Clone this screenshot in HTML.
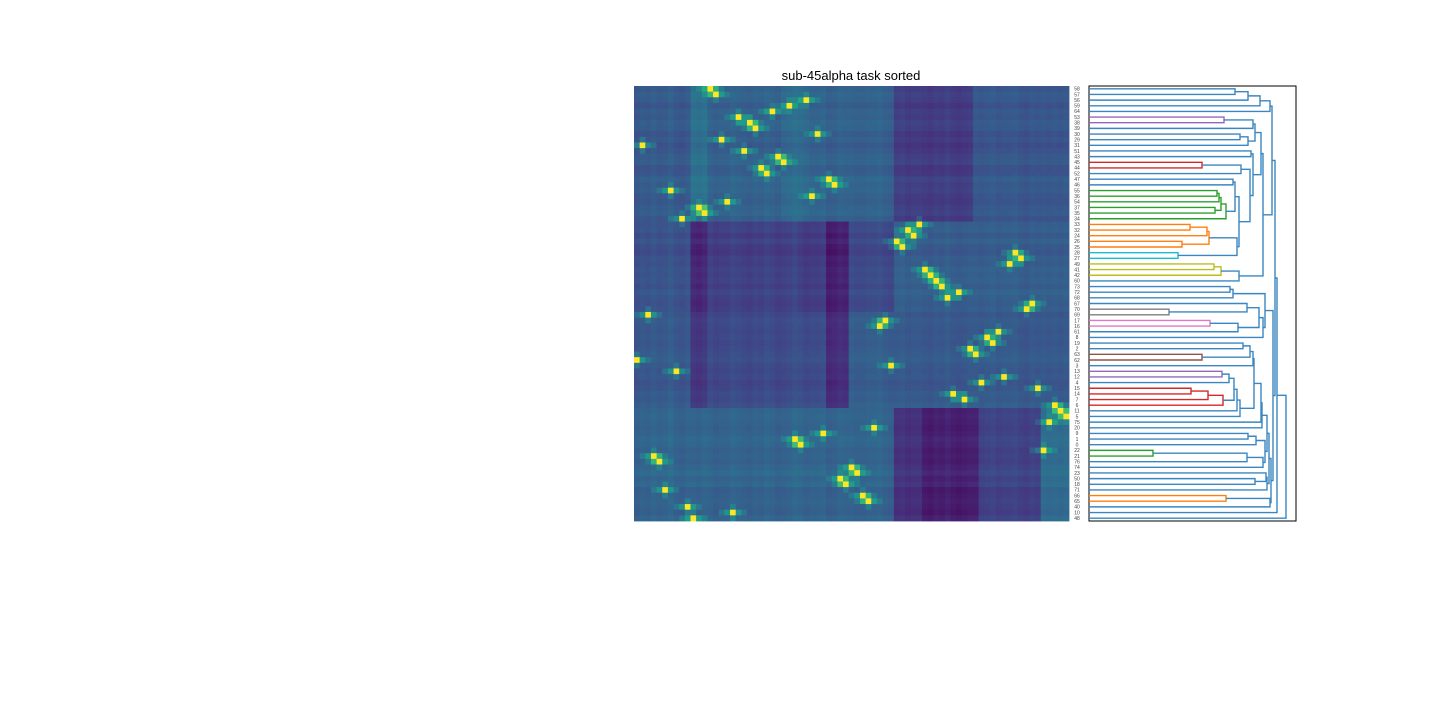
<!DOCTYPE html>
<html><head><meta charset="utf-8"><style>
html,body{margin:0;padding:0;background:#fff;width:1440px;height:720px;overflow:hidden}
svg{display:block}
</style></head><body>
<svg id="fig" width="1440" height="720" xmlns="http://www.w3.org/2000/svg">
<text x="851" y="80" text-anchor="middle" font-family="Liberation Sans, sans-serif" font-size="13" fill="#000">sub-45alpha task sorted</text>
<g id="heat"></g>
<g id="labels"></g>
<rect x="1089" y="86" width="207" height="435" fill="none" stroke="#000" stroke-width="1"/>
<g id="dendro"></g>
</svg>
<script>
const leafLabels = [58,57,56,59,64,53,38,39,30,29,31,51,43,45,44,52,47,46,55,36,54,37,35,34,33,32,24,26,25,28,27,49,41,42,60,73,72,68,67,70,69,17,16,61,8,19,2,63,62,3,13,12,4,15,14,7,6,11,5,75,20,9,1,0,22,21,76,74,23,50,18,71,66,65,40,10,48];
const peakCol = [13,14,30,27,24,18,20,21,32,15,1,19,25,26,22,23,34,35,6,31,16,11,12,8,50,48,49,46,47,67,68,66,51,52,53,54,57,55,70,69,2,44,43,64,62,63,59,60,0,45,7,65,61,71,56,58,74,75,76,73,42,33,28,29,72,3,4,38,39,36,37,5,40,41,9,17,10];
const rowBlock = [0,0,0,0,0,0,0,0,0,0,0,0,0,0,0,0,0,0,0,0,0,0,0,0,1,1,1,1,1,1,1,1,1,1,1,1,1,1,1,1,2,2,2,2,2,2,2,2,2,2,2,2,2,2,2,2,2,3,3,3,3,3,3,3,3,3,3,3,3,3,3,3,3,3,3,3,3];
const rowBias = [0.02,0.04,0.03,0,0.03,0.02,0.04,0.03,0,0.02,-0.01,0.01,0.03,0.04,0,0.01,0.05,0.03,0.04,0.02,0.01,0.03,0.04,0.01,0.02,0.03,0,0.03,0,-0.01,0.02,0.01,0.03,0.02,0.03,0.01,0.04,0.02,0.01,0.02,0.01,0.03,0.02,0.01,0.02,0.01,0.02,0.03,0.04,0.02,0.01,0.02,0,0.01,0.03,0.02,0.04,0.02,0.03,0.02,0.01,0.02,0.04,0.03,0.01,0.02,0.01,0.03,0.05,0.02,0.04,0,0.01,0.02,0.01,0,0.03];
const colBias = [0,0.02,0.01,0.03,0.01,0.02,0.04,0.01,0,0.02,0.02,0.01,0.03,0.02,0,0.01,0.01,0.03,0.02,0.01,0,0.02,0.01,0.03,0.02,0,0.01,0.02,0.04,0.03,0.01,0.02,0.02,0.03,0,0.01,0.03,0.02,0.02,0.01,0.01,0.02,0.02,0.03,0.01,0,0.02,0.03,0.01,0.02,0.02,0.01,0,0.02,0.01,0.03,0.01,0,0.01,0.02,0.02,0.01,0.02,0.03,0.01,0.02,0.02,0.03,0.01,0,0.02,0.01,0.02,0.01,0.02,0.01,0.02];
const profile0 = [[0,9,0.24],[10,12,0.33],[13,25,0.27],[26,30,0.3],[31,45,0.27],[46,59,0.14],[60,76,0.23]];
const profile1 = [[0,9,0.22],[10,12,0.07],[13,28,0.16],[29,33,0.14],[34,37,0.05],[38,45,0.19],[46,76,0.26]];
const profile2 = [[0,9,0.24],[10,12,0.12],[13,33,0.19],[34,37,0.09],[38,45,0.26],[46,76,0.24]];
const profile3 = [[0,45,0.28],[46,50,0.1],[51,60,0.05],[61,71,0.16],[72,76,0.31]];
const profiles = [profile0, profile1, profile2, profile3];

const N = leafLabels.length, X0 = 634, Y0 = 86, S = 435 / N;
const stops = [[68,1,84],[72,40,120],[62,74,137],[49,104,142],[38,130,142],[31,158,137],[53,183,121],[109,205,89],[180,222,44],[253,231,37]];
function viridis(v){v=Math.max(0,Math.min(1,v));const t=v*(stops.length-1),i=Math.min(stops.length-2,Math.floor(t)),f=t-i;const a=stops[i],b=stops[i+1];return `rgb(${Math.round(a[0]+(b[0]-a[0])*f)},${Math.round(a[1]+(b[1]-a[1])*f)},${Math.round(a[2]+(b[2]-a[2])*f)})`;}
const rowOfCol = new Array(N); peakCol.forEach((c,r)=>rowOfCol[c]=r);
const heat = document.getElementById('heat');
const NS='http://www.w3.org/2000/svg';
for(let r=0;r<N;r++){
  const prof = profiles[rowBlock[r]];
  for(let c=0;c<N;c++){
    let v=0.27; for(const s of prof){ if(c>=s[0]&&c<=s[1]) v=s[2]; }
    v += rowBias[r] + colBias[c];
    const dh=Math.abs(c-peakCol[r]), dv=Math.abs(r-rowOfCol[c]);
    if(dh===0) v=1;
    else {
      if(dh===1) v+=0.22; else if(dh===2) v+=0.1;
      if(dv===1) v+=0.12;
    }
    const rect=document.createElementNS(NS,'rect');
    rect.setAttribute('x',(X0+c*S).toFixed(2));rect.setAttribute('y',(Y0+r*S).toFixed(2));
    rect.setAttribute('width',(S+0.4).toFixed(2));rect.setAttribute('height',(S+0.4).toFixed(2));
    rect.setAttribute('fill',viridis(v));
    
    
    heat.appendChild(rect);
  }
}
const lab=document.getElementById('labels');
leafLabels.forEach((l,i)=>{
  const t=document.createElementNS(NS,'text');
  t.setAttribute('x',1077);t.setAttribute('y',(Y0+(i+0.5)*S+1.8).toFixed(2));
  t.setAttribute('text-anchor','middle');t.setAttribute('font-size','5');
  t.setAttribute('font-family','Liberation Sans, sans-serif');t.setAttribute('fill','#444');
  t.textContent=l;
  
  
  lab.appendChild(t);
});
const A=[[[[0,1,146],2,159],3,171],4,181];
const B1=[[[5,6,135,'p'],7,164],[[8,9,151],10,159],166];
const Cr=[[13,14,113,'r'],15,152];
const G=[[[[18,19,128,'g'],20,130,'g'],[21,22,126,'g'],132,'g'],23,137,'g'];
const D=[[16,17,144],G,146];
const O=[[[24,25,101,'o'],26,118,'o'],[27,28,93,'o'],120,'o'];
const E=[O,[29,30,89,'c'],148];
const H=[Cr,[D,E,150],161];
const I=[[11,12,162],H,164];
const Yc=[[[31,32,125,'y'],33,132,'y'],34,150];
const K=[[B1,I,172],Yc,174];
const TOP=[A,K,183];
const M=[[[35,36,141],37,144],[[[38,[39,40,80,'gr'],158],[[41,42,121,'pk'],43,149],170],44,174],176];
const N1=[[[45,46,154],[47,48,113,'br'],161],49,164];
const N3=[[[[[50,51,133,'p'],52,140],[[[53,54,102,'r'],55,119,'r'],56,134,'r'],145],57,148],58,151];
const N5=[[[N1,N3,165],59,172],60,173];
const P=[[[61,62,159],63,167],[[[64,65,64,'g'],66,158],67,174],176];
const Q2=[[68,[69,70,166],177],71,178];
const R=[[72,73,137,'o'],74,181];
const LOW=[M,[[[N5,P,178],Q2,180],R,182],184];
const tree=[[[TOP,LOW,186],75,188],76,197];
const colors={p:'#9467bd',r:'#d62728',g:'#2ca02c',o:'#ff7f0e',c:'#17becf',y:'#bcbd22',gr:'#7f7f7f',pk:'#e377c2',br:'#8c564b'};
const DX=1089, dg=document.getElementById('dendro');
function pos(n){ if(typeof n==='number') return [0, Y0+(n+0.5)*S];
  const a=pos(n[0]), b=pos(n[1]); const y=(a[1]+b[1])/2; const h=n[2];
  const col=colors[n[3]]||'#3a86c0';
  const pl=document.createElementNS(NS,'polyline');
  pl.setAttribute('points',`${DX+a[0]},${a[1]} ${DX+h},${a[1]} ${DX+h},${b[1]} ${DX+b[0]},${b[1]}`);
  pl.setAttribute('fill','none');pl.setAttribute('stroke',col);pl.setAttribute('stroke-width','1.4');
  
  
  dg.appendChild(pl);
  return [h,y];
}
pos(tree);
</script>
</body></html>
